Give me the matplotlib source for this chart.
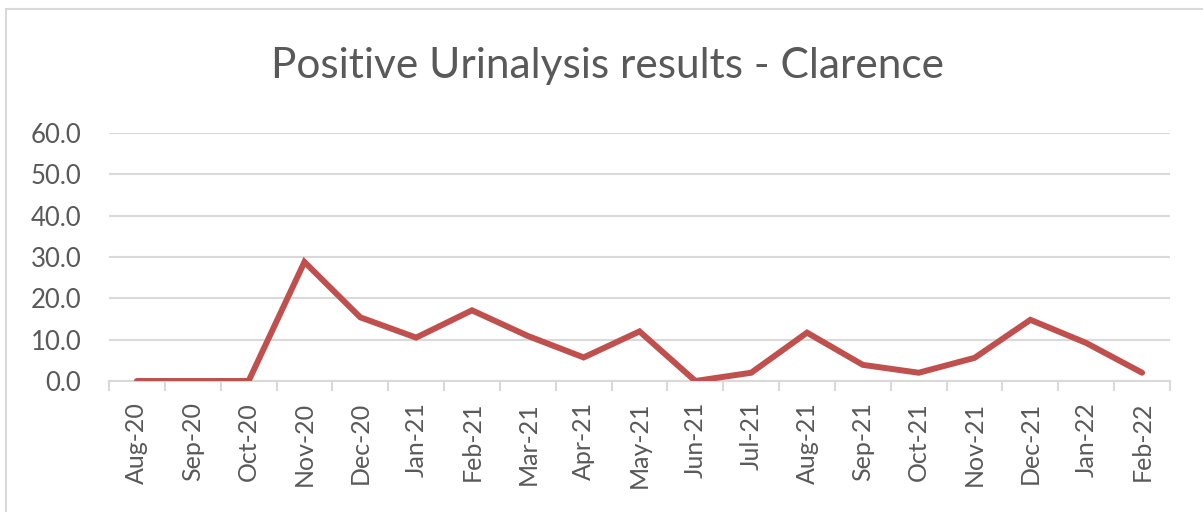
"""Positive urinalysis results - Clarence, monthly line chart."""

import matplotlib.pyplot as plt
from matplotlib.patches import Rectangle

MONTHS = [
    "Aug-20", "Sep-20", "Oct-20", "Nov-20", "Dec-20", "Jan-21", "Feb-21",
    "Mar-21", "Apr-21", "May-21", "Jun-21", "Jul-21", "Aug-21", "Sep-21",
    "Oct-21", "Nov-21", "Dec-21", "Jan-22", "Feb-22",
]
POSITIVE = [
    0.0, 0.0, 0.0, 28.8, 15.4, 10.5, 17.1, 10.9, 5.7, 12.0,
    0.0, 2.0, 11.7, 3.9, 2.0, 5.6, 14.8, 9.2, 2.0,
]
Y_TICKS = [0, 10, 20, 30, 40, 50, 60]

TEXT = "#595959"
GRID = "#d9d9d9"
LINE = "#c0504d"

plt.rcParams["font.family"] = ["Lato", "DejaVu Sans"]

fig = plt.figure(figsize=(12.03, 5.12), dpi=100)
fig.patches.append(Rectangle((6 / 1203, -0.1), 1.1, (512 - 9) / 512 + 0.1,
                             transform=fig.transFigure, fill=False,
                             edgecolor=GRID, linewidth=1.5))
ax = fig.add_axes([109 / 1203, (512 - 381) / 512, 1061 / 1203, 248 / 512])

x = list(range(len(MONTHS)))
ax.plot(x, POSITIVE, color=LINE, linewidth=4.3, solid_joinstyle="miter",
        solid_capstyle="round", zorder=3)

ax.set_xlim(-0.5, len(MONTHS) - 0.5)
ax.set_ylim(0, 60)
ax.set_yticks(Y_TICKS)
ax.set_yticklabels([f"{v:.1f}" for v in Y_TICKS])
ax.yaxis.grid(True, color=GRID, linewidth=1.5)
ax.set_axisbelow(True)

ax.set_xticks(x)
ax.set_xticklabels(MONTHS, rotation=90)
ax.set_xticks([i - 0.5 for i in range(len(MONTHS) + 1)], minor=True)
ax.tick_params(axis="x", which="major", length=0, pad=15, labelsize=18,
               labelcolor=TEXT)
ax.tick_params(axis="x", which="minor", length=7, width=1.5, color=GRID,
               direction="out")
ax.tick_params(axis="y", length=0, pad=20, labelsize=18.5, labelcolor=TEXT)

for side in ("top", "right", "left"):
    ax.spines[side].set_visible(False)
ax.spines["bottom"].set_color(GRID)
ax.spines["bottom"].set_linewidth(1.5)

fig.text(0.505, 0.872, "Positive Urinalysis results - Clarence", ha="center",
         va="center", fontsize=30.5, color=TEXT)

fig.savefig("out.png", dpi=100)
